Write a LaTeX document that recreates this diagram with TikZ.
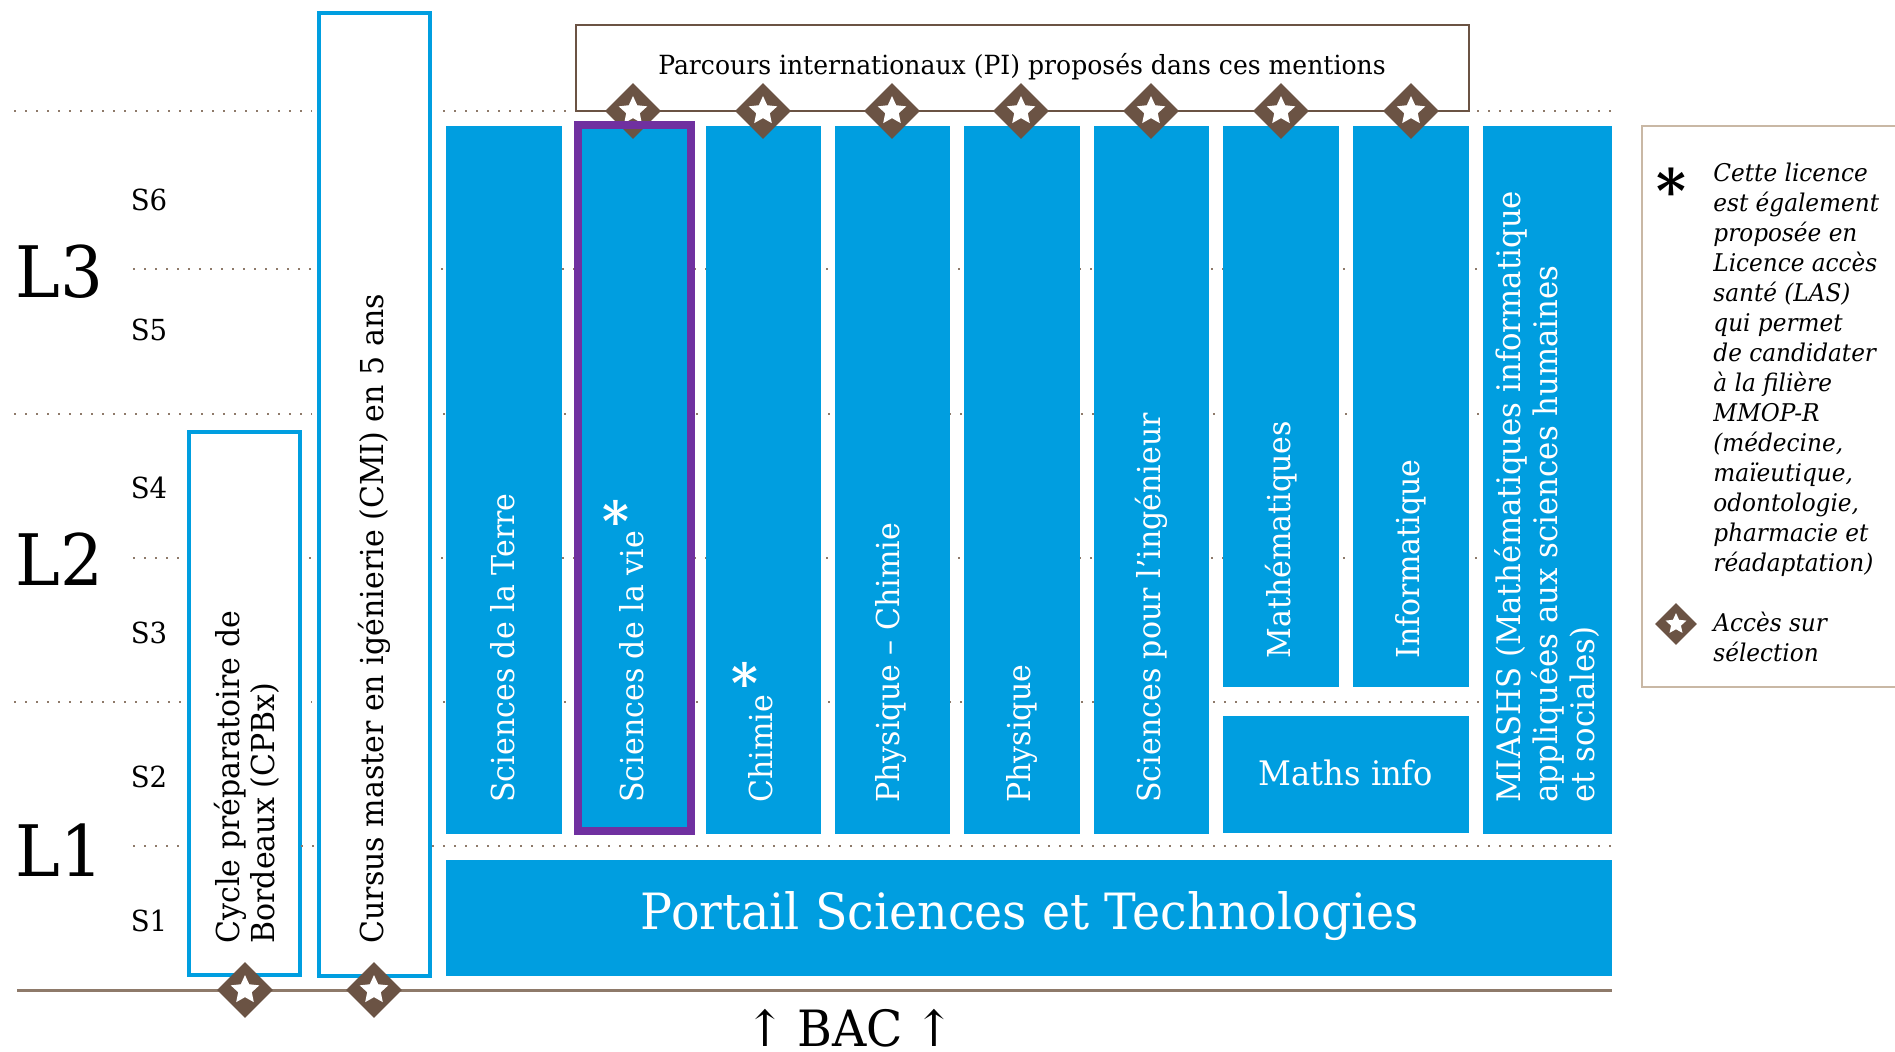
\documentclass[tikz,border=0pt]{standalone}
\usepackage{fontspec}
\setmainfont{DejaVu Serif}[FakeStretch=0.95]
\definecolor{barblue}{RGB}{0, 158, 224}
\definecolor{viepurple}{RGB}{112, 48, 160}
\definecolor{selbrown}{RGB}{107, 83, 68}
\definecolor{linebrown}{RGB}{142, 122, 106}
\definecolor{legendtan}{RGB}{201, 184, 165}
\usetikzlibrary{shapes.geometric}
\tikzset{
    bluebar/.style={rectangle, fill=barblue, inner sep=0pt, outer sep=0pt,
        anchor=north west},
    openbar/.style={rectangle, draw=barblue, fill=white, line width=2pt,
        inner sep=0pt, outer sep=0pt, anchor=north west,
        preaction={draw=white, line width=7pt}},
    bartext/.style={rotate=90, anchor=west, text=white, align=left,
        inner sep=0pt, font=\fontsize{15.8}{17.5}\selectfont},
    opentext/.style={bartext, text=black},
    semlabel/.style={inner sep=0pt, font=\fontsize{14.5}{16}\selectfont},
    yearlabel/.style={inner sep=0pt, anchor=west, font=\fontsize{35.5}{40}\selectfont},
    gridline/.style={linebrown, line width=1.1pt, dash pattern=on 1.1pt off 4.4pt},
    seldiamond/.style={diamond, fill=selbrown, aspect=1, inner sep=0pt,
        minimum size=28pt},
    selstar/.style={star, star points=5, star point ratio=2.1, fill=white,
        inner sep=0pt, minimum size=15pt},
    starmark/.style={text=white, inner sep=0pt, font=\fontsize{27}{27}\bfseries\selectfont},
    legendtext/.style={anchor=north west, align=left, inner sep=0pt,
        font=\fontsize{12.2}{15}\itshape\selectfont},
}
\begin{document}
\begin{tikzpicture}[x=.5pt, y=-.5pt]
    \useasboundingbox (0, 0) rectangle (1895, 1051);
    % semester lines
    \foreach \y/\xstart in {111/14, 269/133, 414/14, 558/133, 702/14} {
        \draw[gridline] (\xstart, \y) -- (1612, \y);
    }
    % left boxes
    \node[openbar, minimum width=55.5pt, minimum height=271.5pt] (cpbx) at (189, 432) {};
    \node[openbar, minimum width=55.5pt, minimum height=481.5pt] (cmi) at (319, 13) {};
    \foreach \xa/\xb in {133/187, 301/317, 432/1612} {
        \draw[gridline] (\xa, 846) -- (\xb, 846);
    }
    \node[opentext] (cpbxtext) at (247, 944) {Cycle préparatoire de\\Bordeaux (CPBx)};
    \node[opentext] (cmitext) at (374, 944) {Cursus master en igénierie (CMI) en 5 ans};
    % licence bars
    \foreach \name/\x/\w in {terre/446/116, vie/574/121, chimie/706/115, phychi/835/115,
        physique/964/116, inge/1094/115, miashs/1483/129} {
        \node[bluebar, minimum width=\w*.5pt, minimum height=354pt] (\name) at (\x, 126) {};
    }
    \node[bluebar, minimum width=58pt, minimum height=280.5pt] (maths) at (1223, 126) {};
    \node[bluebar, minimum width=58pt, minimum height=280.5pt] (info) at (1353, 126) {};
    \node[bluebar, minimum width=123pt, minimum height=58.5pt] (mathsinfo) at (1223, 716) {};
    \node[bluebar, minimum width=583pt, minimum height=58pt] (portail) at (446, 860) {};
    \node[text=white, inner sep=0pt, font=\fontsize{25}{28}\selectfont] (portailtext)
        at (1030, 916) {Portail Sciences et Technologies};
    \node[text=white, inner sep=0pt, font=\fontsize{16.9}{19}\selectfont] (mathsinfotext)
        at (1346, 773) {Maths info};
    \node[bartext] (terretext) at (503, 803) {Sciences de la Terre};
    \node[bartext] (vietext) at (632, 803) {Sciences de la vie};
    \node[bartext] (chimietext) at (761, 803) {Chimie};
    \node[bartext] (phychitext) at (891, 803) {Physique – Chimie};
    \node[bartext] (physiquetext) at (1022, 803) {Physique};
    \node[bartext] (ingetext) at (1151, 803) {Sciences pour l'ingénieur};
    \node[bartext] (mathstext) at (1281, 659) {Mathématiques};
    \node[bartext] (infotext) at (1411, 659) {Informatique};
    \node[bartext, font=\fontsize{16.2}{18.3}\selectfont] (miashstext) at (1547, 803)
        {MIASHS (Mathématiques informatique\\appliquées aux sciences humaines\\et sociales)};
    \node[starmark] (vieast) at (616, 520) {*};
    \node[starmark] (chimieast) at (745, 682) {*};
    % parcours internationaux
    \node[rectangle, draw=selbrown, line width=1pt, inner sep=0pt, outer sep=0pt,
        anchor=north west, minimum width=446.5pt, minimum height=43pt] (pibox) at (576, 25) {};
    \node[inner sep=0pt, font=\fontsize{13.2}{15}\selectfont] (pitext) at (1022, 67)
        {Parcours internationaux (PI) proposés dans ces mentions};
    \coordinate (basestart) at (17, 990);
    \coordinate (baseend) at (1612, 990);
    \draw[linebrown, line width=1.5pt] (basestart) -- (baseend);
    \foreach \name/\x/\y in {a/633/111, b/763/111, c/892/111, d/1021/111, e/1151/111,
        f/1281/111, g/1411/111, h/245/990, i/374/990} {
        \node[seldiamond] (sel\name) at (\x, \y) {};
        \node[selstar] (star\name) at (\x, \y) {};
    }
    \node[rectangle, draw=viepurple, line width=4pt, inner sep=0pt, outer sep=0pt,
        anchor=north west, minimum width=56.5pt, minimum height=353pt] (vieframe) at (578, 124.5) {};
    % years and semesters
    \node[yearlabel] (lthree) at (15, 272) {L3};
    \node[yearlabel] (ltwo) at (15, 559) {L2};
    \node[yearlabel] (lone) at (15, 850) {L1};
    \foreach \i/\y in {6/200, 5/330, 4/488, 3/633, 2/777, 1/921} {
        \node[semlabel] (sem\i) at (149, \y) {S\i};
    }
    \node[inner sep=0pt, font=\fontsize{25}{25}\selectfont] (bac) at (850, 1028) {↑\hspace{6pt}BAC\hspace{6pt}↑};
    % legend
    \draw[legendtan, line width=1.2pt] (1895, 126) -- (1642, 126) -- (1642, 687) -- (1895, 687);
    \node[starmark, text=black, font=\fontsize{30}{30}\bfseries\selectfont] (legast) at (1671, 190) {*};
    \node[legendtext] (legtext) at (1713, 163) {Cette licence\\est également\\proposée en\\Licence accès\\santé (LAS)\\qui permet\\de candidater\\à la filière\\MMOP-R\\(médecine,\\maïeutique,\\odontologie,\\pharmacie et\\réadaptation)};
    \node[seldiamond, minimum size=21pt] (legsel) at (1676, 624) {};
    \node[selstar, minimum size=11pt] (legstar) at (1676, 624) {};
    \node[legendtext] (legseltext) at (1713, 612) {Accès sur\\sélection};
\end{tikzpicture}
\end{document}
